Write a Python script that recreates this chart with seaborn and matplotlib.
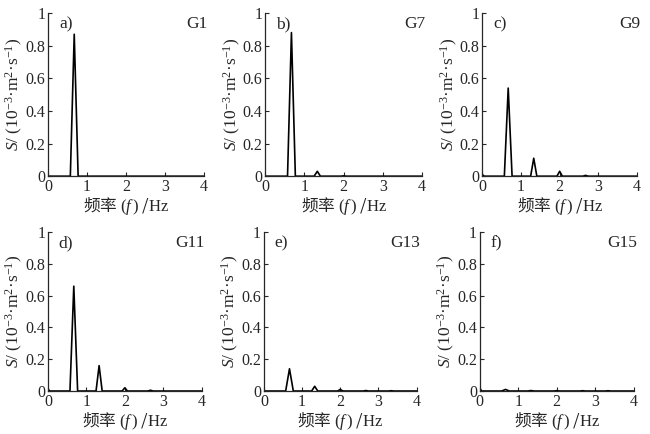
import numpy as np
import pandas as pd
import matplotlib
matplotlib.use("Agg")
import matplotlib.pyplot as plt
import seaborn as sns

freq = [0.0, 0.05, 0.57, 0.67, 0.77, 1.25, 1.33, 1.41, 1.93, 2.0, 2.07,
        2.6, 2.67, 2.74, 3.27, 3.33, 3.4, 4.0]

# spectral density S (10^-3 m^2 s^-1) for each case
s_g1 = [0.0, 0.0, 0.0, 0.87, 0.0, 0.0, 0.0, 0.0, 0.0, 0.0, 0.0,
        0.0, 0.0, 0.0, 0.0, 0.0, 0.0, 0.0]
s_g7 = [0.0, 0.0, 0.0, 0.88, 0.0, 0.0, 0.03, 0.0, 0.0, 0.002, 0.0,
        0.0, 0.0, 0.0, 0.0, 0.0, 0.0, 0.0]
s_g9 = [0.01, 0.0, 0.0, 0.54, 0.0, 0.0, 0.11, 0.0, 0.0, 0.03, 0.0,
        0.0, 0.005, 0.0, 0.0, 0.0, 0.0, 0.0]
s_g11 = [0.01, 0.0, 0.0, 0.66, 0.0, 0.0, 0.16, 0.0, 0.0, 0.02, 0.0,
         0.0, 0.005, 0.0, 0.0, 0.0, 0.0, 0.0]
s_g13 = [0.0, 0.0, 0.0, 0.14, 0.0, 0.0, 0.03, 0.0, 0.0, 0.01, 0.0,
         0.0, 0.003, 0.0, 0.0, 0.002, 0.0, 0.0]
s_g15 = [0.02, 0.0, 0.0, 0.01, 0.0, 0.0, 0.003, 0.0, 0.0, 0.002, 0.0,
         0.0, 0.002, 0.0, 0.0, 0.002, 0.0, 0.0]

cases = ["G1", "G7", "G9", "G11", "G13", "G15"]
letters = ["a)", "b)", "c)", "d)", "e)", "f)"]
series = [s_g1, s_g7, s_g9, s_g11, s_g13, s_g15]

x_ticks = [0, 1, 2, 3, 4]
y_ticks = [0, 0.2, 0.4, 0.6, 0.8, 1.0]
y_ticklabels = ["0", "0.2", "0.4", "0.6", "0.8", "1"]

sns.set_style("ticks")
plt.rcParams["font.family"] = ["Liberation Serif", "Noto Sans CJK SC"]
plt.rcParams["mathtext.fontset"] = "custom"
plt.rcParams["mathtext.rm"] = "Liberation Serif"
plt.rcParams["mathtext.it"] = "Liberation Serif:italic"
plt.rcParams["mathtext.bf"] = "Liberation Serif:bold"
plt.rcParams["font.size"] = 11.5

# axes boxes in figure fraction [left, bottom, width, height]
boxes = [
    [0.074, 0.594, 0.240, 0.376],
    [0.408, 0.594, 0.241, 0.376],
    [0.742, 0.594, 0.238, 0.376],
    [0.074, 0.099, 0.236, 0.366],
    [0.406, 0.099, 0.235, 0.366],
    [0.738, 0.099, 0.237, 0.366],
]

fig = plt.figure(figsize=(6.5, 4.34), dpi=100)
for box, case, letter, s in zip(boxes, cases, letters, series):
    ax = fig.add_axes(box)
    df = pd.DataFrame({"f": freq, "S": s})
    sns.lineplot(data=df, x="f", y="S", ax=ax, color="black", linewidth=1.2)
    ax.set_xlim(0, 4)
    ax.set_ylim(0, 1)
    ax.set_xticks(x_ticks)
    ax.set_yticks(y_ticks)
    ax.set_yticklabels(y_ticklabels)
    ax.tick_params(direction="in", length=3, width=0.8, pad=2, labelsize=11.5)
    sns.despine(ax=ax)
    for sp in ["left", "bottom"]:
        ax.spines[sp].set_linewidth(0.9)
    ax.set_xlabel(r"频率 $(f\,)$ /$\mathrm{Hz}$", fontsize=12, labelpad=0,
                  fontfamily="Noto Sans CJK SC")
    ax.set_ylabel("$S$/ (10$^{-3}$·m$^{2}$·s$^{-1}$)", fontsize=12.5, labelpad=0)
    ax.text(0.07, 0.98, letter, transform=ax.transAxes, ha="left", va="top",
            fontsize=12.5)
    ax.text(1.02, 0.98, case, transform=ax.transAxes, ha="right", va="top",
            fontsize=12.5)

fig.savefig("out.png", dpi=100)
